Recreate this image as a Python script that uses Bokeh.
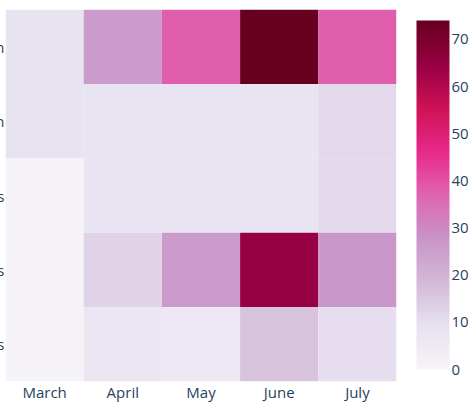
import numpy as np
from bokeh.plotting import figure
from bokeh.models import LinearColorMapper, ColorBar, FixedTicker, ColumnDataSource, FactorRange, Range1d
from bokeh.transform import transform
from bokeh.embed import file_html
from bokeh.resources import INLINE

months = ["March", "April", "May", "June", "July"]
row_labels = ["n", "n", "s", "s", "s"]  # top to bottom (visible part of the labels)
row1 = [8.5, 26, 38, 74, 38]
row2 = [8.5, 8, 8, 8, 11]
row3 = [1, 8, 8, 8, 11]
row4 = [1, 13, 26, 65, 27]
row5 = [1, 7, 6, 16, 10]
rows = [row1, row2, row3, row4, row5]
cbar_ticks = [0, 10, 20, 30, 40, 50, 60, 70]

# Plotly PuRd colour scale stops
stops = [(247, 244, 249), (231, 225, 239), (212, 185, 218), (201, 148, 199),
         (223, 101, 176), (231, 41, 138), (206, 18, 86), (152, 0, 67), (103, 0, 31)]
sp = np.linspace(0, 1, len(stops))
t = np.linspace(0, 1, 256)
arr = np.array(stops, dtype=float)
palette = ["#%02x%02x%02x" % tuple(int(round(np.interp(v, sp, arr[:, k]))) for k in range(3)) for v in t]

xs, ys, zs = [], [], []
for i, r in enumerate(rows):
    for j, m in enumerate(months):
        xs.append(m)
        ys.append(len(rows) - 1 - i)
        zs.append(r[j])
src = ColumnDataSource(dict(x=xs, y=ys, z=zs))

zmin, zmax = 0, 74
mapper = LinearColorMapper(palette=palette, low=zmin, high=zmax)

FONT = "Open Sans"
TXT = "#2a3f5f"

p = figure(x_range=FactorRange(*months), y_range=Range1d(-0.5, 4.5),
           frame_width=391, frame_height=372, output_backend="svg",
           toolbar_location=None, min_border_left=0, min_border_top=9,
           min_border_right=72, min_border_bottom=0)
p.margin = (0, 0, 0, -8)
p.rect(x="x", y="y", width=1, height=1, source=src,
       fill_color=transform("z", mapper), line_color=None)

p.outline_line_color = None
p.grid.grid_line_color = None
for ax in (p.xaxis[0], p.yaxis[0]):
    ax.axis_line_color = None
    ax.major_tick_line_color = None
    ax.minor_tick_line_color = None
    ax.major_tick_out = 0
    ax.major_tick_in = 0
    ax.major_label_text_font = FONT
    ax.major_label_text_font_size = "15px"
    ax.major_label_text_color = TXT
p.xaxis.major_label_standoff = 0
p.yaxis.major_label_standoff = 1
p.yaxis.ticker = FixedTicker(ticks=list(range(len(rows))))
p.yaxis.major_label_overrides = {len(rows) - 1 - i: lab for i, lab in enumerate(row_labels)}

cb = ColorBar(color_mapper=mapper, ticker=FixedTicker(ticks=cbar_ticks),
              width=33, height=349, location=(20, 12),
              margin=0, padding=0,
              major_tick_line_color=None, minor_tick_line_color=None,
              bar_line_color=None, label_standoff=2,
              major_label_text_font=FONT, major_label_text_font_size="15px",
              major_label_text_color=TXT, background_fill_alpha=0,
              border_line_color=None)
p.add_layout(cb, "right")

open("out.html", "w").write(file_html(p, INLINE))
